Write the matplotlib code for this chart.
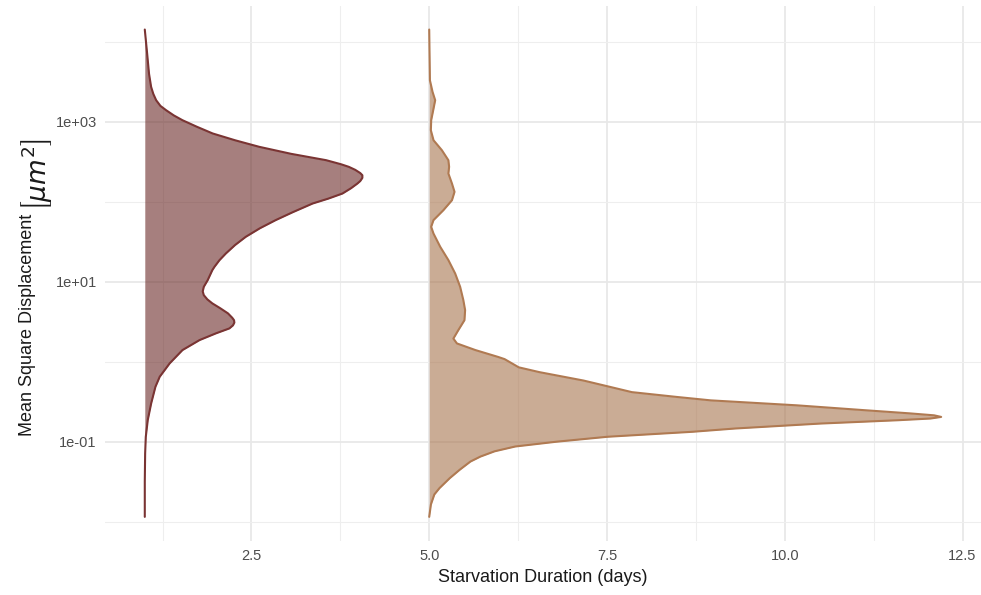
import matplotlib
matplotlib.use("Agg")
import matplotlib.pyplot as plt
import numpy as np

plt.rcParams['font.family'] = ['Liberation Sans', 'DejaVu Sans']

# starvation day where each half-violin starts
day_short = 1.0
day_long = 5.0

# log10(MSD) levels and the density width (in days)
short_log_msd = [4.155, 3.855, 3.60, 3.438, 3.35, 3.271, 3.20, 3.146, 3.08, 3.021, 2.94, 2.855,
                 2.77, 2.688, 2.60, 2.521, 2.47, 2.4375, 2.40, 2.36, 2.333, 2.30, 2.26, 2.229,
                 2.17, 2.104, 2.04, 1.979, 1.87, 1.771, 1.67, 1.5625, 1.46, 1.354, 1.27, 1.1875,
                 1.146, 1.021, 0.9375, 0.88, 0.833, 0.78, 0.73, 0.67, 0.605, 0.55, 0.52, 0.49,
                 0.455, 0.417, 0.355, 0.271, 0.146, -0.02, -0.1875, -0.3125, -0.52, -0.729,
                 -0.94, -1.146, -1.5, -1.94]
short_width = [0.0, 0.033, 0.06, 0.089, 0.12, 0.16, 0.22, 0.30, 0.41, 0.53, 0.73, 0.955,
               1.27, 1.61, 2.06, 2.55, 2.76, 2.87, 2.96, 3.03, 3.06, 3.06, 3.03, 2.99,
               2.90, 2.78, 2.58, 2.36, 2.08, 1.84, 1.62, 1.42, 1.27, 1.14, 1.05, 0.98,
               0.95, 0.885, 0.83, 0.815, 0.83, 0.88, 0.95, 1.06, 1.17, 1.23, 1.255, 1.26,
               1.24, 1.19, 1.00, 0.77, 0.53, 0.35, 0.21, 0.15, 0.09, 0.042,
               0.014, 0.005, 0.0, 0.0]

long_log_msd = [4.155, 3.52, 3.375, 3.271, 3.167, 3.021, 2.896, 2.77, 2.646, 2.52, 2.4375,
                2.354, 2.229, 2.125, 2.02, 1.896, 1.771, 1.6875, 1.604, 1.4375, 1.271, 1.104,
                0.9375, 0.771, 0.646, 0.52, 0.396, 0.29, 0.229, 0.146, 0.06, 0.033, -0.07,
                -0.13, -0.235, -0.318, -0.38, -0.44, -0.483, -0.545, -0.607, -0.645, -0.67,
                -0.69, -0.71, -0.731, -0.773, -0.835, -0.876, -0.938, -1.0, -1.06, -1.12,
                -1.186, -1.248, -1.35, -1.455, -1.58, -1.66, -1.785, -1.94]
long_width = [0.0, 0.01, 0.047, 0.084, 0.061, 0.028, 0.023, 0.061, 0.178, 0.27, 0.28,
              0.27, 0.32, 0.356, 0.32, 0.20, 0.06, 0.028, 0.06, 0.155, 0.27, 0.365,
              0.435, 0.48, 0.505, 0.496, 0.41, 0.34, 0.39, 0.65, 0.97, 1.06, 1.26,
              1.55, 2.17, 2.56, 2.85, 3.48, 3.96, 5.17, 6.14, 6.75, 7.1,
              7.2, 7.05, 6.6, 5.5, 4.3, 3.7, 2.51, 1.79, 1.21, 0.92,
              0.72, 0.58, 0.43, 0.29, 0.145, 0.072, 0.024, 0.0]

x_major = [2.5, 5.0, 7.5, 10.0, 12.5]
x_minor = [1.25, 3.75, 6.25, 8.75, 11.25]
y_major = [1e-1, 1e1, 1e3]
y_minor = [1e-2, 1e0, 1e2, 1e4]
y_labels = ["1e-01", "1e+01", "1e+03"]

fig = plt.figure(figsize=(9.81, 5.95), dpi=100)
ax = fig.add_axes([0.107, 0.091, 0.893, 0.899])

groups = [
    (day_short, short_log_msd, short_width, "#6b2a28", "#7a3433"),
    (day_long, long_log_msd, long_width, "#a8754e", "#b07a52"),
]
for x0, logs, widths, fill_c, line_c in groups:
    msd = 10 ** np.array(logs)
    edge = x0 + np.array(widths)
    ax.fill_betweenx(msd, x0, edge, color=fill_c, alpha=0.6, lw=0, zorder=2)
    ax.plot(edge, msd, color=line_c, lw=1.5, zorder=3,
            solid_capstyle="round", solid_joinstyle="round")

ax.set_yscale("log")
ax.set_xlim(0.44, 12.76)
ax.set_ylim(10 ** -2.24, 10 ** 4.45)

ax.set_xticks(x_major)
ax.set_xticklabels(["2.5", "5.0", "7.5", "10.0", "12.5"])
ax.set_xticks(x_minor, minor=True)
ax.set_yticks(y_major)
ax.set_yticklabels(y_labels)
ax.set_yticks(y_minor, minor=True)
ax.yaxis.set_minor_formatter(matplotlib.ticker.NullFormatter())

ax.grid(which="major", color="#e8e8e8", lw=1.3, zorder=0)
ax.grid(which="minor", color="#eeeeee", lw=0.8, zorder=0)
ax.set_axisbelow(True)
ax.tick_params(which="both", length=0, labelsize=10.5, labelcolor="#4d4d4d", pad=6)
for s in ax.spines.values():
    s.set_visible(False)

ax.set_xlabel("Starvation Duration (days)", fontsize=13, color="#1a1a1a", labelpad=4)

# y title: plain text followed by a larger math unit
fig.text(28 / 981, 1 - 436 / 595, "Mean Square Displacement", rotation=90,
         ha="center", va="bottom", fontsize=13, color="#1a1a1a")
fig.text(37 / 981, 1 - 211 / 595, r"$\left[\mu m^2\right]$", rotation=90,
         ha="center", va="bottom", fontsize=19, color="#1a1a1a")

fig.savefig("out.png", dpi=100)
